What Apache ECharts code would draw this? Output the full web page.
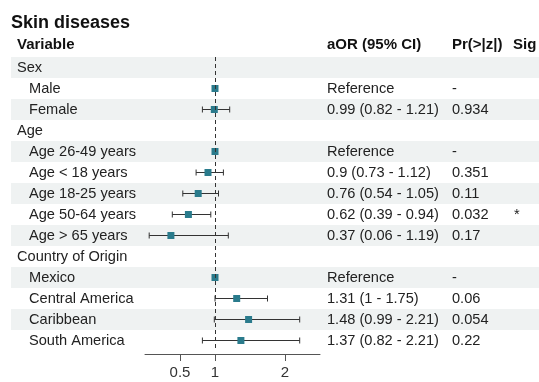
<!DOCTYPE html>
<html>
<head>
<meta charset="utf-8">
<script src="https://cdn.jsdelivr.net/npm/echarts@6/dist/echarts.min.js"></script>
<style>
  html, body { margin: 0; padding: 0; background: #fff; }
  #chart { width: 539px; height: 382px; }
</style>
</head>
<body>
<div id="chart"></div>
<script>
// rows, top to bottom
var labels = ['Sex', 'Male', 'Female', 'Age', 'Age 26-49 years', 'Age < 18 years', 'Age 18-25 years',
  'Age 50-64 years', 'Age > 65 years', 'Country of Origin', 'Mexico', 'Central America', 'Caribbean', 'South America'];
var isGroup = [1, 0, 0, 1, 0, 0, 0, 0, 0, 1, 0, 0, 0, 0];
var est = [null, 1, 0.99, null, 1, 0.9, 0.76, 0.62, 0.37, null, 1, 1.31, 1.48, 1.37];
var lo = [null, null, 0.82, null, null, 0.73, 0.54, 0.39, 0.06, null, null, 1, 0.99, 0.82];
var hi = [null, null, 1.21, null, null, 1.12, 1.05, 0.94, 1.19, null, null, 1.75, 2.21, 2.21];
var aorText = ['', 'Reference', '0.99 (0.82 - 1.21)', '', 'Reference', '0.9 (0.73 - 1.12)', '0.76 (0.54 - 1.05)',
  '0.62 (0.39 - 0.94)', '0.37 (0.06 - 1.19)', '', 'Reference', '1.31 (1 - 1.75)', '1.48 (0.99 - 2.21)', '1.37 (0.82 - 2.21)'];
var pText = ['', '-', '0.934', '', '-', '0.351', '0.11', '0.032', '0.17', '', '-', '0.06', '0.054', '0.22'];
var sigText = ['', '', '', '', '', '', '', '*', '', '', '', '', '', ''];
var xTicks = [0.5, 1, 2];

var FONT = '"Liberation Sans", Arial, sans-serif';
var FS = 14.6;
var chart = echarts.init(document.getElementById('chart'));

var pointData = [], ciData = [], bandData = [];
labels.forEach(function (l, i) {
  if (est[i] != null) pointData.push([est[i], i]);
  if (lo[i] != null) ciData.push([lo[i], hi[i], i]);
  if (i % 2 === 0) bandData.push([0, i]);
});

var option = {
  animation: false,
  textStyle: { fontFamily: FONT },
  graphic: [
    { type: 'text', left: 11, top: 14, style: { text: 'Skin diseases', font: 'bold 18px ' + FONT, fill: '#111' } },
    { type: 'text', left: 17, top: 37, style: { text: 'Variable', font: 'bold 15px ' + FONT, fill: '#111' } },
    { type: 'text', left: 327, top: 37, style: { text: 'aOR (95% CI)', font: 'bold 15px ' + FONT, fill: '#111' } },
    { type: 'text', left: 452, top: 37, style: { text: 'Pr(>|z|)', font: 'bold 15px ' + FONT, fill: '#111' } },
    { type: 'text', left: 513, top: 37, style: { text: 'Sig', font: 'bold 15px ' + FONT, fill: '#111' } }
  ],
  grid: { left: 145, right: 219, top: 57, height: 294 },
  xAxis: {
    type: 'value', min: 0, max: 2.5, offset: 3,
    splitLine: { show: false },
    axisLine: { show: true, lineStyle: { color: '#555' } },
    axisTick: { show: true, length: 7, lineStyle: { color: '#555' }, customValues: xTicks },
    axisLabel: { color: '#333', fontSize: 15, margin: 11, customValues: xTicks }
  },
  yAxis: [{
    type: 'category', inverse: true, data: labels,
    axisLine: { show: false }, axisTick: { show: false },
    axisLabel: {
      align: 'left', margin: 128, color: '#222', fontSize: FS,
      formatter: function (v, i) { return isGroup[i] ? '{g|' + v + '}' : '{i|' + v + '}'; },
      rich: {
        g: { fontSize: FS, color: '#222' },
        i: { fontSize: FS, color: '#222', padding: [0, 0, 0, 12] }
      }
    }
  }, {
    type: 'category', inverse: true, position: 'right', data: labels,
    axisLine: { show: false }, axisTick: { show: false },
    axisLabel: {
      align: 'left', margin: 7,
      formatter: function (v, i) {
        return '{a|' + aorText[i] + '}{p|' + pText[i] + '}{s|' + sigText[i] + '}';
      },
      rich: {
        a: { width: 125, fontSize: FS, color: '#222' },
        p: { width: 61, fontSize: FS, color: '#222' },
        s: { fontSize: FS, color: '#222', padding: [0, 0, 0, 1] }
      }
    }
  }],
  series: [{
    type: 'custom', z: 0, clip: false, silent: true,
    data: bandData,
    encode: { x: 0, y: 1 },
    renderItem: function (params, api) {
      var c = api.coord([0, api.value(1)]);
      var h = api.size([0, 1])[1];
      return { type: 'rect', shape: { x: 11, y: c[1] - h / 2, width: 528, height: h }, style: { fill: '#eff2f2' } };
    }
  }, {
    type: 'custom', z: 2, clip: false,
    data: ciData,
    encode: { x: [0, 1], y: 2 },
    renderItem: function (params, api) {
      var a = api.coord([api.value(0), api.value(2)]);
      var b = api.coord([api.value(1), api.value(2)]);
      var st = { stroke: '#333', lineWidth: 1 };
      return { type: 'group', children: [
        { type: 'line', shape: { x1: a[0], y1: a[1], x2: b[0], y2: b[1] }, style: st },
        { type: 'line', shape: { x1: a[0], y1: a[1] - 3, x2: a[0], y2: a[1] + 3 }, style: st },
        { type: 'line', shape: { x1: b[0], y1: b[1] - 3, x2: b[0], y2: b[1] + 3 }, style: st }
      ] };
    }
  }, {
    type: 'scatter', z: 3, symbol: 'rect', symbolSize: 7,
    itemStyle: { color: '#2a7b8c', opacity: 1 },
    data: pointData,
    markLine: {
      silent: true, symbol: 'none', label: { show: false },
      lineStyle: { color: '#333', type: [4, 3], width: 1 },
      data: [{ xAxis: 1 }]
    }
  }]
};
chart.setOption(option);
</script>
</body>
</html>
